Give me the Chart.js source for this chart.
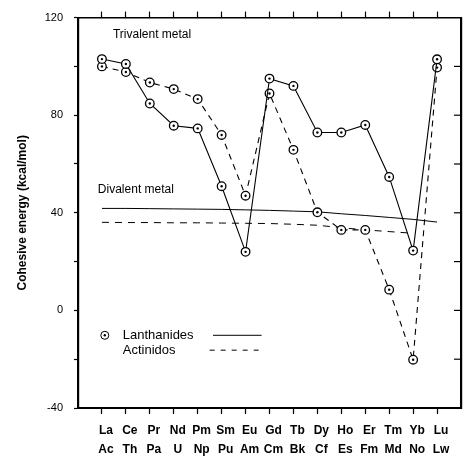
<!DOCTYPE html>
<html>
<head>
<meta charset="utf-8">
<script src="https://cdn.jsdelivr.net/npm/chart.js@4.4.1/dist/chart.umd.min.js"></script>
<style>
  html, body { margin: 0; padding: 0; background: #fff; }
  #wrap { width: 472px; height: 457px; }
</style>
</head>
<body>
<div id="wrap"><canvas id="cohesiveChart" width="472" height="457"></canvas></div>
<script>
// Datos
const lanthanideLabels = ['La', 'Ce', 'Pr', 'Nd', 'Pm', 'Sm', 'Eu', 'Gd', 'Tb', 'Dy', 'Ho', 'Er', 'Tm', 'Yb', 'Lu'];
const actinideLabels = ['Ac', 'Th', 'Pa', 'U', 'Np', 'Pu', 'Am', 'Cm', 'Bk', 'Cf', 'Es', 'Fm', 'Md', 'No', 'Lw'];
const lanthanides = [103, 101, 84.8, 75.7, 74.6, 50.9, 24, 95, 92, 72.9, 72.9, 76, 54.7, 24.5, 102.9];
const actinides = [100, 97.7, 93.4, 90.7, 86.6, 71.9, 47, 88.9, 65.8, 40.2, 33, 33, 8.5, -20.2, 99.5];
const divalentLanthanides = [41.8, 41.8, 41.7, 41.6, 41.5, 41.4, 41.2, 41.0, 40.7, 40.4, 39.6, 38.9, 38.1, 37.3, 36.2];
const divalentActinides = [36.1, 36.0, 36.0, 35.9, 35.9, 35.8, 35.7, 35.6, 35.3, 34.9, 33.9, 33.0, 32.3, 31.6, null];
const yTicks = [-40, -20, 0, 20, 40, 60, 80, 100, 120];
const yLabelled = [-40, 0, 40, 80, 120];

function toPoints(values) {
    return values.map(function(v, i) { return { x: i, y: v }; });
}

const FONT = "'Liberation Sans', Arial, sans-serif";

// Textos y leyenda dibujados sobre el gráfico
const notesPlugin = {
    id: 'notes',
    afterDraw: function(chart) {
        const ctx = chart.ctx;
        const xs = chart.scales.x;
        const ys = chart.scales.y;
        const area = chart.chartArea;
        ctx.save();
        ctx.fillStyle = '#000';
        ctx.strokeStyle = '#000';

        // ticks interiores del eje derecho
        ctx.lineWidth = 1.2;
        yTicks.forEach(function(v) {
            if (v === -40 || v === 120) return;
            const py = ys.getPixelForValue(v);
            ctx.beginPath();
            ctx.moveTo(area.right - 7, py);
            ctx.lineTo(area.right, py);
            ctx.stroke();
        });

        ctx.textBaseline = 'middle';
        ctx.textAlign = 'left';
        ctx.font = '12px ' + FONT;
        ctx.fillText('Trivalent metal', xs.getPixelForValue(0.46), ys.getPixelForValue(113.2));
        ctx.fillText('Divalent metal', xs.getPixelForValue(-0.17), ys.getPixelForValue(49.3));

        // leyenda
        ctx.font = '13px ' + FONT;
        const yL = ys.getPixelForValue(-10.2);
        const yA = ys.getPixelForValue(-16.3);
        ctx.fillText('Lanthanides', xs.getPixelForValue(0.87), yL);
        ctx.fillText('Actinidos', xs.getPixelForValue(0.87), yA);
        ctx.lineWidth = 1;
        ctx.beginPath();
        ctx.arc(xs.getPixelForValue(0.12), yL, 4, 0, Math.PI * 2);
        ctx.stroke();
        ctx.beginPath();
        ctx.arc(xs.getPixelForValue(0.12), yL, 1.2, 0, Math.PI * 2);
        ctx.fill();
        ctx.beginPath();
        ctx.moveTo(xs.getPixelForValue(4.64), yL);
        ctx.lineTo(xs.getPixelForValue(6.67), yL);
        ctx.stroke();
        ctx.setLineDash([5, 6]);
        ctx.beginPath();
        ctx.moveTo(xs.getPixelForValue(4.5), yA);
        ctx.lineTo(xs.getPixelForValue(6.75), yA);
        ctx.stroke();
        ctx.restore();
    },
    afterDatasetsDraw: function(chart) {
        // punto central de los marcadores
        const ctx = chart.ctx;
        ctx.save();
        ctx.fillStyle = '#000';
        [0, 1].forEach(function(di) {
            chart.getDatasetMeta(di).data.forEach(function(pt) {
                ctx.beginPath();
                ctx.arc(pt.x, pt.y, 1.2, 0, Math.PI * 2);
                ctx.fill();
            });
        });
        ctx.restore();
    }
};

function keepCategories(scale) {
    scale.ticks = scale.ticks.filter(function(t) { return t.value >= 0 && t.value <= 14; });
}

document.addEventListener('DOMContentLoaded', function() {
    const ctx = document.getElementById('cohesiveChart');
    new Chart(ctx, {
        type: 'scatter',
        data: {
            datasets: [{
                label: 'Lanthanides',
                data: toPoints(lanthanides),
                showLine: true,
                borderColor: '#000',
                borderWidth: 1.1,
                pointRadius: 4.3,
                pointBorderWidth: 1.3,
                pointBackgroundColor: '#fff',
                pointBorderColor: '#000'
            }, {
                label: 'Actinidos',
                data: toPoints(actinides),
                showLine: true,
                borderColor: '#000',
                borderWidth: 1.1,
                borderDash: [6, 5],
                pointRadius: 4.3,
                pointBorderWidth: 1.3,
                pointBackgroundColor: '#fff',
                pointBorderColor: '#000'
            }, {
                label: 'Divalent lanthanides',
                data: toPoints(divalentLanthanides),
                showLine: true,
                borderColor: '#000',
                borderWidth: 1,
                pointRadius: 0
            }, {
                label: 'Divalent actinides',
                data: toPoints(divalentActinides),
                showLine: true,
                borderColor: '#000',
                borderWidth: 1,
                borderDash: [7, 6],
                pointRadius: 0
            }]
        },
        options: {
            responsive: false,
            animation: false,
            layout: { padding: 0 },
            plugins: {
                legend: { display: false },
                tooltip: { enabled: false }
            },
            scales: {
                x: {
                    type: 'linear',
                    position: 'bottom',
                    min: -1,
                    max: 15,
                    afterBuildTicks: keepCategories,
                    afterFit: function(s) { s.height = 49; },
                    grid: { drawOnChartArea: false, tickLength: 6, tickColor: '#000', tickWidth: 1.2 },
                    border: { color: '#000', width: 2 },
                    ticks: {
                        stepSize: 1,
                        autoSkip: false,
                        maxRotation: 0,
                        padding: 7,
                        labelOffset: 4,
                        color: '#000',
                        font: { family: FONT, size: 12, weight: 'bold', lineHeight: 1.6 },
                        callback: function(v) {
                            return [lanthanideLabels[v], actinideLabels[v]];
                        }
                    }
                },
                x2: {
                    type: 'linear',
                    position: 'top',
                    min: -1,
                    max: 15,
                    afterBuildTicks: keepCategories,
                    afterFit: function(s) { s.height = 15; },
                    grid: { drawOnChartArea: false, tickLength: 6, tickColor: '#000', tickWidth: 1.2 },
                    border: { color: '#000', width: 1.5 },
                    ticks: { stepSize: 1, display: false }
                },
                y: {
                    min: -40,
                    max: 120,
                    afterFit: function(s) { s.width = 78; },
                    afterBuildTicks: function(s) {
                        s.ticks = yTicks.map(function(v) { return { value: v }; });
                    },
                    grid: { drawOnChartArea: false, tickLength: 4, tickColor: '#000', tickWidth: 1.2 },
                    border: { color: '#000', width: 2.2 },
                    title: {
                        display: true,
                        text: 'Cohesive energy (kcal/mol)',
                        color: '#000',
                        font: { family: FONT, size: 12, weight: 'bold' },
                        padding: { top: 15, bottom: 0 }
                    },
                    ticks: {
                        padding: 11,
                        color: '#000',
                        font: { family: FONT, size: 11 },
                        callback: function(v) {
                            return yLabelled.indexOf(v) >= 0 ? String(v) : '';
                        }
                    }
                },
                y2: {
                    position: 'right',
                    min: -40,
                    max: 120,
                    afterFit: function(s) { s.width = 11; },
                    grid: { display: false },
                    border: { color: '#000', width: 2.2 },
                    ticks: { display: false }
                }
            }
        },
        plugins: [notesPlugin]
    });
});
</script>
</body>
</html>
